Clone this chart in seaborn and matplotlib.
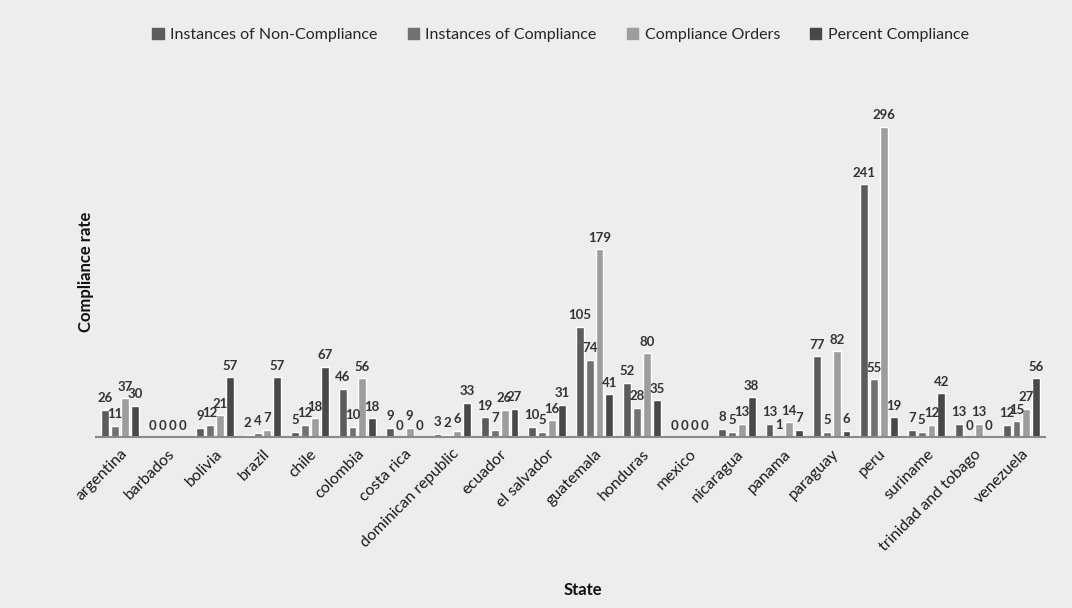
import pandas as pd
import seaborn as sns
import matplotlib.pyplot as plt

states = ['argentina', 'barbados', 'bolivia', 'brazil', 'chile', 'colombia',
          'costa rica', 'dominican republic', 'ecuador', 'el salvador',
          'guatemala', 'honduras', 'mexico', 'nicaragua', 'panama',
          'paraguay', 'peru', 'suriname', 'trinidad and tobago', 'venezuela']
non_compliance = [26, 0, 9, 2, 5, 46, 9, 3, 19, 10, 105, 52, 0, 8, 13, 77, 241, 7, 13, 12]
compliance = [11, 0, 12, 4, 12, 10, 0, 2, 7, 5, 74, 28, 0, 5, 1, 5, 55, 5, 0, 15]
orders = [37, 0, 21, 7, 18, 56, 9, 6, 26, 16, 179, 80, 0, 13, 14, 82, 296, 12, 13, 27]
percent = [30, 0, 57, 57, 67, 18, 0, 33, 27, 31, 41, 35, 0, 38, 7, 6, 19, 42, 0, 56]

series = ['Instances of Non-Compliance', 'Instances of Compliance',
          'Compliance Orders', 'Percent Compliance']
colors = ['#5c5c5c', '#717171', '#9d9d9d', '#484848']

rows = []
for name, vals in zip(series, [non_compliance, compliance, orders, percent]):
    for s, v in zip(states, vals):
        rows.append({'State': s, 'Series': name, 'Value': v})
df = pd.DataFrame(rows)

sns.set_style('white')
plt.rcParams['font.family'] = ['Lato', 'DejaVu Sans']
bg = '#ededed'

fig = plt.figure(figsize=(10.72, 6.08), dpi=100, facecolor=bg)
ax = fig.add_axes([0.09, 0.281, 0.885, 0.604])
ax.set_facecolor(bg)

sns.barplot(data=df, x='State', y='Value', hue='Series', palette=colors,
            width=0.83, gap=0.2, ax=ax, legend=True)

for c in ax.containers:
    ax.bar_label(c, fmt='%d', fontsize=9.5, fontweight='bold', color='#333333', padding=4)

ax.set_ylim(0, 350)
ax.set_xlim(-0.5, len(states) - 0.5)
ax.set_yticks([])
for sp in ['top', 'right', 'left']:
    ax.spines[sp].set_visible(False)
ax.spines['bottom'].set_color('#8a8a8a')
ax.spines['bottom'].set_linewidth(1.5)
ax.tick_params(axis='x', length=0, pad=7)
plt.setp(ax.get_xticklabels(), rotation=45, ha='right', rotation_mode='anchor',
         fontsize=11.5, color='#1a1a1a')

ax.set_ylabel('Compliance rate', fontsize=12, fontweight='bold', color='#111111')
ax.yaxis.set_label_coords(-0.003, 0.45)
ax.set_xlabel('')
fig.text(0.544, 0.022, 'State', fontsize=12, fontweight='bold', color='#111111', ha='center')

ax.legend_.remove()
handles = [plt.Rectangle((0, 0), 1, 1, color=c) for c in colors]
fig.legend(handles, series, loc='center', bbox_to_anchor=(0.523, 0.942), ncol=4,
           frameon=False, fontsize=11.5, handlelength=0.7, handleheight=0.7,
           handletextpad=0.4, columnspacing=1.9)

fig.savefig('out.png', dpi=100, facecolor=bg)
